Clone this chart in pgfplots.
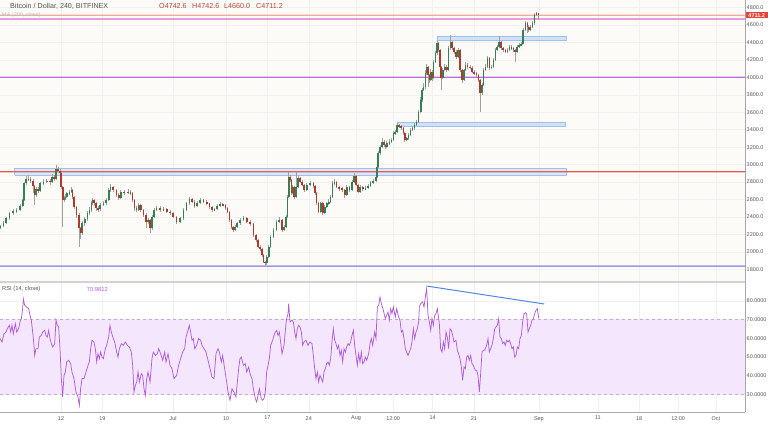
\documentclass[border=0pt]{standalone}
\usepackage{fontspec}
\setmainfont{Liberation Sans}
\usepackage{pgfplots}
\usepackage{pgfplotstable}
\pgfplotsset{compat=1.18}
\definecolor{upgreen}{HTML}{348052}
\definecolor{downred}{HTML}{B0392C}
\definecolor{wickc}{HTML}{A0A0A0}
\definecolor{cream}{HTML}{FCFBF7}
\definecolor{gridc}{HTML}{F0F0F0}
\definecolor{rectfill}{HTML}{C5DAF3}
\definecolor{rectdraw}{HTML}{9FC2EC}
\definecolor{rsiline}{HTML}{B15DD8}
\definecolor{rsiband}{HTML}{F4E7FD}
\definecolor{rsidash}{HTML}{C9A6DA}
\definecolor{trendblue}{HTML}{4F86E8}
\definecolor{pricered}{HTML}{E2453C}
\definecolor{textgrey}{HTML}{555555}
\definecolor{ohlc}{HTML}{B5443A}
\definecolor{axisgrey}{HTML}{A8A8A8}
\definecolor{sepgrey}{HTML}{D3D3D3}
\definecolor{lvsalmon}{RGB}{244,169,158}
\definecolor{lvpink}{RGB}{219,111,194}
\definecolor{lvviolet}{RGB}{186,110,220}
\definecolor{lvred}{RGB}{228,92,92}
\definecolor{lvblue}{RGB}{154,154,230}

\pgfplotstableread{
x o h l c
1.66 2280 2310 2260 2296
2.22 2296 2350 2285 2334
2.68 2334 2400 2320 2384
3.24 2384 2460 2370 2442
3.91 2442 2490 2420 2468
4.49 2468 2500 2440 2479
5.05 2479 2545 2465 2525
5.51 2525 2610 2510 2594
5.73 2594 2800 2580 2785
6.07 2785 2870 2770 2831
6.46 2831 2880 2810 2838
6.86 2838 2860 2790 2815
7.30 2815 2830 2680 2754
7.54 2754 2770 2537 2651
7.76 2651 2740 2630 2717
8.15 2717 2740 2680 2701
8.44 2701 2800 2690 2785
9.00 2785 2830 2770 2804
9.58 2804 2840 2790 2815
10.14 2815 2830 2770 2804
10.47 2804 2890 2790 2861
10.81 2861 2875 2810 2831
11.15 2831 2995 2820 2946
11.54 2946 2970 2910 2930
11.83 2930 2950 2880 2900
12.05 2900 2915 2720 2746
12.29 2746 2760 2288 2594
12.51 2594 2640 2570 2613
12.73 2613 2660 2590 2632
12.97 2632 2690 2615 2671
13.41 2671 2710 2650 2689
13.75 2689 2740 2670 2709
13.98 2709 2720 2610 2632
14.20 2632 2645 2490 2517
14.66 2517 2530 2390 2422
15.10 2422 2440 2059 2270
15.34 2270 2290 2150 2212
15.56 2212 2350 2190 2327
16.02 2327 2400 2300 2373
16.46 2373 2470 2350 2442
16.80 2442 2510 2420 2479
17.14 2479 2580 2460 2556
17.37 2556 2620 2540 2594
17.59 2594 2610 2530 2556
17.93 2556 2570 2470 2499
18.27 2499 2520 2460 2487
18.61 2487 2560 2470 2537
19.17 2537 2580 2520 2556
19.63 2556 2620 2540 2594
20.09 2594 2730 2580 2709
20.42 2709 2775 2690 2746
20.86 2746 2760 2690 2709
21.44 2709 2725 2630 2651
21.78 2651 2670 2590 2613
22.12 2613 2710 2600 2689
22.68 2689 2710 2650 2678
23.36 2678 2715 2660 2689
23.81 2689 2705 2650 2671
24.15 2671 2690 2575 2594
24.49 2594 2610 2470 2499
24.83 2499 2520 2455 2479
25.17 2479 2560 2465 2537
25.51 2537 2550 2460 2479
25.95 2479 2495 2400 2422
26.41 2422 2440 2273 2345
26.75 2345 2390 2320 2365
27.09 2365 2380 2219 2270
27.42 2270 2420 2250 2403
27.76 2403 2500 2390 2479
28.22 2479 2530 2465 2499
28.78 2499 2520 2460 2479
29.34 2479 2510 2465 2487
29.92 2487 2500 2440 2460
30.48 2460 2475 2420 2442
31.03 2442 2455 2385 2403
31.61 2403 2415 2320 2345
32.17 2345 2400 2330 2384
32.73 2384 2500 2370 2479
33.30 2479 2575 2465 2556
33.75 2556 2630 2540 2602
34.20 2602 2615 2560 2575
34.66 2575 2590 2500 2525
35.10 2525 2580 2510 2563
35.56 2563 2615 2550 2594
36.12 2594 2605 2560 2575
36.70 2575 2590 2540 2556
37.14 2556 2565 2490 2510
37.59 2510 2525 2460 2479
38.05 2479 2505 2465 2487
38.49 2487 2545 2475 2525
38.95 2525 2570 2510 2548
39.41 2548 2565 2520 2537
39.85 2537 2550 2480 2499
40.19 2499 2510 2440 2460
40.53 2460 2470 2345 2365
40.87 2365 2380 2265 2288
41.20 2288 2300 2225 2250
41.54 2250 2305 2235 2288
41.88 2288 2345 2270 2327
42.34 2327 2385 2310 2365
42.90 2365 2410 2350 2384
43.48 2384 2395 2330 2345
44.04 2345 2360 2300 2319
44.60 2319 2330 2175 2193
45.05 2193 2210 2115 2136
45.39 2136 2150 2040 2059
45.73 2059 2080 2005 2029
46.07 2029 2045 1945 1964
46.29 1964 1975 1870 1887
46.58 1887 1900 1830 1869
46.87 1869 1965 1855 1944
47.21 1944 2080 1930 2059
47.54 2059 2195 2045 2173
47.99 2173 2270 2160 2250
48.56 2250 2370 2235 2345
49.00 2345 2400 2330 2365
49.46 2365 2380 2230 2250
49.80 2250 2310 2235 2288
50.14 2288 2420 2275 2403
50.36 2403 2650 2390 2632
50.60 2632 2918 2620 2861
50.82 2861 2880 2805 2823
51.04 2823 2835 2650 2671
51.27 2671 2770 2660 2746
51.49 2746 2760 2610 2632
51.83 2632 2918 2620 2746
52.17 2746 2870 2730 2843
52.51 2843 2860 2790 2804
52.85 2804 2820 2750 2766
53.19 2766 2780 2690 2709
53.65 2709 2790 2695 2766
54.20 2766 2810 2750 2785
54.77 2785 2800 2735 2754
55.10 2754 2765 2650 2671
55.34 2671 2685 2535 2556
55.68 2556 2570 2440 2460
56.02 2460 2575 2445 2556
56.36 2556 2570 2420 2442
56.70 2442 2535 2430 2517
57.04 2517 2575 2500 2556
57.38 2556 2600 2540 2575
57.71 2575 2650 2560 2632
58.05 2632 2810 2620 2785
58.39 2785 2830 2770 2804
58.73 2804 2815 2730 2746
59.17 2746 2760 2700 2728
59.63 2728 2740 2690 2709
60.09 2709 2720 2620 2651
60.43 2651 2770 2640 2746
60.87 2746 2760 2690 2709
61.32 2709 2825 2695 2804
61.66 2804 2900 2790 2869
62.00 2869 2880 2750 2766
62.34 2766 2780 2670 2689
62.68 2689 2765 2675 2746
63.14 2746 2760 2700 2720
63.58 2720 2750 2705 2730
64.04 2730 2780 2715 2760
64.49 2760 2815 2745 2795
64.93 2795 2830 2780 2810
65.39 2810 2880 2795 2861
65.61 2861 2995 2850 2976
65.73 2976 3150 2960 3129
66.07 3129 3230 3115 3205
66.41 3205 3300 3190 3262
66.75 3262 3280 3200 3224
66.97 3224 3240 3180 3205
67.21 3205 3265 3190 3244
67.65 3244 3290 3230 3262
67.99 3262 3310 3245 3282
68.33 3282 3380 3270 3358
68.66 3358 3400 3340 3377
69.00 3377 3480 3365 3453
69.34 3453 3470 3420 3442
69.68 3442 3455 3400 3416
70.02 3416 3430 3340 3358
70.26 3358 3370 3260 3282
70.60 3282 3320 3265 3301
70.93 3301 3360 3285 3339
71.27 3339 3415 3325 3396
71.61 3396 3440 3380 3416
71.95 3416 3475 3400 3453
72.29 3453 3510 3440 3491
72.63 3491 3630 3475 3606
72.97 3606 3770 3590 3740
73.19 3740 3880 3720 3855
73.41 3855 3930 3840 3892
73.75 3892 4080 3870 4046
73.99 4046 4150 4030 4122
74.21 4122 4135 3892 4026
74.43 4026 4040 3940 3969
74.67 3969 4090 3955 4064
74.88 4064 4080 3960 3989
75.11 3989 4200 3975 4179
75.45 4179 4300 4160 4275
75.78 4275 4430 4260 4390
76.02 4390 4410 4290 4313
76.24 4313 4325 4100 4122
76.46 4122 4135 3855 3989
76.70 3989 4110 3975 4084
77.04 4084 4150 4070 4122
77.38 4122 4140 4060 4084
77.71 4084 4360 4070 4332
78.05 4332 4480 4315 4408
78.27 4408 4420 4310 4332
78.61 4332 4350 4270 4294
78.95 4294 4310 4210 4236
79.29 4236 4340 4220 4313
79.63 4313 4325 4060 4084
79.97 4084 4100 3940 3969
80.31 3969 4100 3955 4084
80.53 4084 4170 4070 4141
80.87 4141 4160 4100 4122
81.33 4122 4145 4090 4110
81.67 4110 4125 4045 4064
82.00 4064 4080 4030 4046
82.46 4046 4060 4005 4026
82.80 4026 4040 3950 3969
83.02 3969 3985 3606 3817
83.36 3817 3935 3800 3912
83.58 3912 4105 3900 4084
83.92 4084 4150 4070 4122
84.26 4122 4245 4105 4218
84.60 4218 4235 4085 4103
84.94 4103 4145 4090 4122
85.28 4122 4220 4105 4198
85.62 4198 4335 4185 4313
85.95 4313 4375 4300 4351
86.29 4351 4470 4335 4408
86.63 4408 4420 4315 4332
86.97 4332 4350 4295 4313
87.31 4313 4330 4275 4294
87.65 4294 4335 4280 4313
87.99 4313 4375 4300 4351
88.33 4351 4365 4315 4332
88.67 4332 4345 4295 4313
89.00 4313 4330 4179 4294
89.34 4294 4370 4280 4351
89.68 4351 4390 4335 4370
90.02 4370 4400 4355 4380
90.26 4380 4430 4365 4408
90.36 4408 4570 4395 4542
90.70 4542 4650 4525 4619
91.04 4619 4630 4508 4580
91.28 4580 4595 4520 4542
91.61 4542 4600 4530 4580
91.95 4580 4640 4565 4619
92.29 4619 4735 4605 4714
92.63 4714 4754 4700 4742
92.97 4742.6 4742.6 4660 4711.2
}\candles

\pgfplotstableread{
x r
1.66 59.9
2.00 58.1
2.34 62.5
2.68 63.4
2.90 65.2
3.24 67.0
3.47 63.4
3.69 67.0
3.92 62.5
4.26 67.9
4.49 63.4
4.82 65.2
5.05 68.8
5.28 70.5
5.50 75.9
5.62 81.2
5.84 77.7
6.18 76.8
6.52 75.9
6.75 72.3
6.97 69.7
7.20 63.4
7.42 56.3
7.54 50.9
7.76 54.5
8.10 54.5
8.33 60.7
8.67 61.6
8.89 63.4
9.23 64.3
9.46 61.6
9.68 60.7
9.91 64.3
10.14 59.9
10.36 57.2
10.59 55.4
10.93 57.2
11.15 69.7
11.38 67.0
11.60 66.1
11.83 54.5
12.06 38.5
12.28 28.7
12.51 40.2
12.73 42.0
12.96 47.4
13.30 48.3
13.64 46.5
13.86 42.0
14.20 38.5
14.54 31.3
14.88 28.7
15.11 24.2
15.33 33.1
15.56 38.5
15.90 38.5
16.24 42.0
16.58 45.6
16.80 47.4
17.03 54.5
17.25 59.0
17.59 58.1
17.82 54.5
18.05 47.4
18.27 51.8
18.50 49.2
18.72 52.7
18.95 50.0
19.18 49.2
19.51 54.5
19.74 56.3
20.08 60.7
20.30 67.0
20.53 63.4
20.87 59.9
21.10 58.1
21.44 52.7
21.66 50.0
21.89 54.5
22.23 57.2
22.57 56.3
22.90 58.1
23.24 56.3
23.58 55.4
23.92 52.7
24.15 45.6
24.37 31.3
24.60 34.9
24.83 36.7
25.05 42.0
25.28 36.7
25.62 41.1
25.84 40.2
26.07 33.1
26.29 29.5
26.52 38.5
26.75 42.0
27.09 36.7
27.42 49.2
27.65 52.7
27.99 50.9
28.33 51.8
28.55 54.5
28.89 51.8
29.23 48.3
29.57 52.7
29.80 47.4
30.14 51.8
30.48 45.6
30.81 43.8
31.15 38.5
31.60 40.2
31.94 45.6
32.28 49.2
32.62 52.7
32.96 54.5
33.19 60.7
33.53 64.3
33.75 67.0
33.98 63.4
34.20 59.0
34.43 59.9
34.66 54.5
35.00 56.3
35.33 59.9
35.67 59.0
35.90 56.3
36.24 54.5
36.58 52.7
36.92 48.3
37.26 43.8
37.59 39.3
37.93 38.5
38.27 51.8
38.61 54.5
38.84 52.7
39.18 47.4
39.40 50.9
39.74 43.8
40.08 36.7
40.31 31.3
40.65 26.9
40.98 33.1
41.32 31.3
41.66 28.7
41.89 36.7
42.11 43.8
42.34 49.2
42.57 50.0
42.91 45.6
43.24 46.5
43.47 42.0
43.81 44.7
44.04 41.1
44.37 38.5
44.60 33.1
44.94 27.8
45.17 26.0
45.39 29.5
45.62 33.1
45.96 27.8
46.18 26.9
46.41 27.8
46.63 31.3
46.86 42.0
47.09 45.6
47.31 49.2
47.54 56.3
47.88 59.0
48.10 61.6
48.33 63.4
48.56 64.3
48.78 61.6
49.01 63.4
49.23 58.1
49.46 51.8
49.80 56.3
50.14 67.9
50.25 70.6
50.48 73.2
50.59 78.6
50.82 68.8
51.15 69.7
51.38 68.8
51.61 63.4
51.83 59.9
52.06 65.2
52.28 67.0
52.51 66.1
52.74 63.4
52.96 56.3
53.19 58.1
53.53 59.0
53.87 56.3
54.20 58.1
54.54 57.2
54.77 50.9
55.00 43.8
55.22 38.5
55.45 42.0
55.67 36.7
55.90 40.2
56.13 38.5
56.35 36.7
56.58 42.0
56.80 43.8
57.03 46.5
57.26 47.4
57.48 45.6
57.71 49.2
57.93 58.1
58.16 65.2
58.39 59.0
58.61 57.2
58.84 54.5
59.06 56.3
59.29 50.9
59.52 53.6
59.74 47.4
59.97 54.5
60.19 52.7
60.42 55.4
60.65 57.2
60.87 56.3
61.10 58.1
61.32 61.6
61.55 64.3
61.78 56.3
62.00 50.9
62.23 45.6
62.45 51.8
62.68 47.4
62.91 52.7
63.13 46.5
63.36 47.4
63.58 50.0
63.81 48.3
64.15 51.8
64.38 57.2
64.60 59.9
64.83 56.3
65.17 63.4
65.39 59.9
65.62 76.8
65.84 77.7
66.07 82.1
66.30 78.6
66.64 75.0
66.97 70.6
67.20 72.3
67.43 74.1
67.65 69.7
67.88 75.9
68.10 73.2
68.33 76.8
68.67 71.4
68.90 75.9
69.23 71.4
69.46 69.7
69.69 63.4
69.91 64.3
70.14 59.9
70.36 54.5
70.59 52.7
70.82 50.9
71.04 52.7
71.27 54.5
71.49 58.1
71.72 65.2
71.95 59.9
72.17 63.4
72.40 65.2
72.62 68.8
72.74 76.8
72.96 78.6
73.30 79.5
73.53 76.8
73.75 82.1
73.98 86.6
74.21 72.3
74.43 68.8
74.66 64.3
74.88 70.5
75.11 67.0
75.34 72.3
75.56 73.2
75.79 75.9
76.13 67.9
76.35 54.5
76.58 52.7
76.81 58.1
77.03 54.5
77.26 63.4
77.48 60.7
77.71 54.5
77.94 65.2
78.16 64.3
78.39 61.6
78.61 58.1
78.95 59.0
79.18 53.6
79.40 51.8
79.63 49.2
79.86 44.7
80.08 37.6
80.31 44.7
80.53 43.8
80.76 50.0
80.99 50.9
81.21 48.3
81.44 50.9
81.66 46.5
81.89 45.6
82.23 42.9
82.46 42.9
82.68 40.2
82.91 31.3
83.13 41.1
83.36 52.7
83.59 53.6
83.81 53.6
84.15 56.3
84.38 59.9
84.60 52.7
84.83 54.5
85.05 56.3
85.28 59.9
85.51 65.2
85.73 66.1
85.96 67.0
86.18 70.5
86.41 60.7
86.64 59.9
86.86 57.2
87.09 58.1
87.31 56.3
87.54 59.0
87.77 58.1
87.99 59.0
88.22 57.2
88.44 54.5
88.67 55.4
88.90 50.0
89.12 50.9
89.35 55.4
89.57 54.5
89.80 59.9
90.03 61.6
90.25 68.8
90.48 73.2
90.70 73.8
90.93 73.2
91.16 63.4
91.38 65.2
91.61 67.0
91.83 69.7
92.06 70.5
92.29 73.2
92.51 75.0
92.74 75.9
92.97 70.98
}\rsi

\begin{document}
\begin{tikzpicture}
\path[use as bounding box] (0,0) rectangle (768bp,424bp);

% ---------------- price pane ----------------
\begin{axis}[
  at={(0bp,143bp)}, anchor=south west,
  scale only axis, width=745bp, height=281bp,
  xmin=1.66, xmax=127.94, ymin=1666, ymax=4886,
  axis line style={draw=none},
  axis background/.style={fill=cream},
  xtick={12,19,31,40,47,54,62,68.3,75,82,93,103,110,116.6,123},
  xticklabels={},
  ytick={1800,2000,...,4800},
  ytick pos=right, yticklabel pos=right,
  major tick length=0pt,
  yticklabel style={font=\fontsize{5.5}{6}\selectfont, text=textgrey, anchor=west, inner sep=1.5bp,
    /pgf/number format/.cd, fixed, fixed zerofill, precision=1, 1000 sep={}, assume math mode=true},
  grid=major, grid style={gridc, line width=0.5bp},
  clip mode=individual,
]
% zones
\addplot[fill=rectfill, fill opacity=0.75, draw=rectdraw, line width=0.6bp] coordinates {(75.73,4424) (97.6,4424) (97.6,4473) (75.73,4473) (75.73,4424)};
\addplot[fill=rectfill, fill opacity=0.75, draw=rectdraw, line width=0.6bp] coordinates {(68.95,3442) (97.43,3442) (97.43,3488) (68.95,3488) (68.95,3442)};
\addplot[fill=rectfill, fill opacity=0.6, draw=rectdraw, line width=0.6bp] coordinates {(4.15,2880) (97.6,2880) (97.6,2960) (4.15,2960) (4.15,2880)};
% horizontal levels (thin bands, about one pixel high)
\addplot[fill=lvsalmon, draw=none] coordinates {(1.66,4705) (127.94,4705) (127.94,4717) (1.66,4717) (1.66,4705)};
\addplot[fill=lvpink, draw=none] coordinates {(1.66,4661) (127.94,4661) (127.94,4675) (1.66,4675) (1.66,4661)};
\addplot[fill=lvviolet, draw=none] coordinates {(1.66,3993) (127.94,3993) (127.94,4007) (1.66,4007) (1.66,3993)};
\addplot[fill=lvred, draw=none] coordinates {(1.66,2911) (127.94,2911) (127.94,2925) (1.66,2925) (1.66,2911)};
\addplot[fill=lvblue, draw=none] coordinates {(1.66,1829) (127.94,1829) (127.94,1845) (1.66,1845) (1.66,1829)};
% wicks
\addplot[draw=none, mark=none, error bars/.cd, y dir=both, y explicit, error mark=none,
  error bar style={line width=0.5bp, color=wickc}]
  table[x=x, y expr={0.5*(\thisrow{h}+\thisrow{l})}, y error expr={0.5*(\thisrow{h}-\thisrow{l})}] {\candles};
% up bodies
\addplot[draw=none, mark=none, unbounded coords=discard, error bars/.cd, y dir=both, y explicit, error mark=none,
  error bar style={line width=1.6bp, color=upgreen}]
  table[x=x, y expr={\thisrow{c}>=\thisrow{o} ? 0.5*(\thisrow{o}+\thisrow{c}) : nan},
        y error expr={max(0.5*abs(\thisrow{c}-\thisrow{o}),6)}] {\candles};
% down bodies
\addplot[draw=none, mark=none, unbounded coords=discard, error bars/.cd, y dir=both, y explicit, error mark=none,
  error bar style={line width=1.6bp, color=downred}]
  table[x=x, y expr={\thisrow{c}<\thisrow{o} ? 0.5*(\thisrow{o}+\thisrow{c}) : nan},
        y error expr={max(0.5*abs(\thisrow{c}-\thisrow{o}),6)}] {\candles};
\end{axis}

% ---------------- RSI pane ----------------
\begin{axis}[
  at={(0bp,12bp)}, anchor=south west,
  scale only axis, width=745bp, height=130bp,
  xmin=1.66, xmax=127.94, ymin=20.64, ymax=90.16,
  axis line style={draw=none},
  xtick={12,19,31,40,47,54,62,68.3,75,82,93,103,110,116.6,123},
  xticklabels={12,19,Jul,10,17,24,Aug,12:00,14,21,Sep,11,18,12:00,Oct},
  xticklabel style={font=\fontsize{5.5}{6}\selectfont, text=textgrey, inner sep=1bp, yshift=-3bp},
  ytick={30,40,...,80},
  ytick pos=right, yticklabel pos=right,
  major tick length=0pt,
  yticklabel style={font=\fontsize{5.5}{6}\selectfont, text=textgrey, anchor=west, inner sep=1.5bp,
    /pgf/number format/.cd, fixed, fixed zerofill, precision=4, 1000 sep={}, assume math mode=true},
  grid=major, grid style={gridc, line width=0.5bp},
  clip mode=individual,
]
\addplot[fill=rsiband, draw=none] coordinates {(1.66,30) (127.94,30) (127.94,70) (1.66,70) (1.66,30)};
\addplot[rsidash, dashed, line width=0.6bp] coordinates {(1.66,70) (127.94,70)};
\addplot[rsidash, dashed, line width=0.6bp] coordinates {(1.66,30) (127.94,30)};
\addplot[rsiline, line width=0.75bp] table[x=x, y=r] {\rsi};
\addplot[trendblue, line width=1bp] coordinates {(73.99,88.0) (93.9,78.4)};
\end{axis}

% frame lines
\draw[sepgrey, line width=1.6bp] (0bp,142.2bp) -- (745bp,142.2bp);
\draw[axisgrey, line width=0.8bp] (745bp,12bp) -- (745bp,424bp);
\draw[axisgrey, line width=0.8bp] (0bp,12bp) -- (745bp,12bp);

% last price label
\node[fill=pricered, text=white, font=\bfseries\fontsize{5.5}{6}\selectfont, inner sep=1.2bp, anchor=west, minimum width=22bp] at (745.5bp,408.8bp) {4711.2};

% titles
\node[anchor=west, font=\fontsize{7.2}{8}\selectfont, text=textgrey, inner sep=0] at (10bp,418bp) {Bitcoin / Dollar, 240, BITFINEX};
\node[anchor=west, font=\fontsize{7.2}{8}\selectfont, text=ohlc, inner sep=0] at (159bp,418bp) {O4742.6};
\node[anchor=west, font=\fontsize{7.2}{8}\selectfont, text=ohlc, inner sep=0] at (192bp,418bp) {H4742.6};
\node[anchor=west, font=\fontsize{7.2}{8}\selectfont, text=ohlc, inner sep=0] at (224bp,418bp) {L4660.0};
\node[anchor=west, font=\fontsize{7.2}{8}\selectfont, text=ohlc, inner sep=0] at (256bp,418bp) {C4711.2};
\node[anchor=west, font=\fontsize{5.5}{6}\selectfont, text=black!25, inner sep=0] at (2bp,408.5bp) {MA (200, close)};
\node[anchor=west, font=\fontsize{5.8}{6.5}\selectfont, text=textgrey, inner sep=0] at (2bp,134.7bp) {RSI (14, close)};
\node[anchor=west, font=\fontsize{5.8}{6.5}\selectfont, text=rsiline, inner sep=0] at (86.7bp,134.7bp) {70.9812};
\end{tikzpicture}
\end{document}
